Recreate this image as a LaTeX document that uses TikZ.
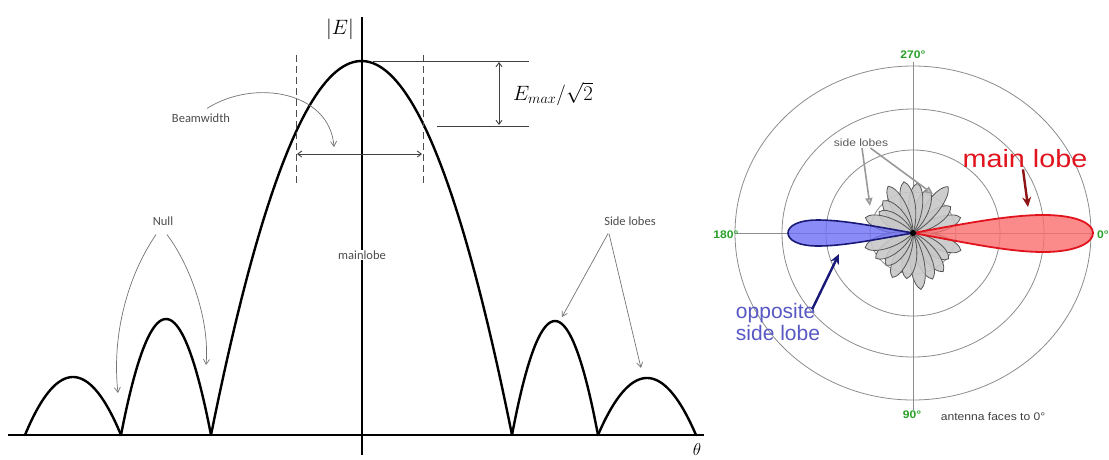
\documentclass[tikz,border=0pt]{standalone}
\usepackage{fontspec}
\setmainfont{Liberation Sans}
\newfontfamily\calib{Carlito}
\usetikzlibrary{arrows.meta}
\definecolor{lobered}{RGB}{250,110,110}
\definecolor{lobeedge}{RGB}{225,20,30}
\definecolor{lobeblue}{RGB}{110,110,245}
\definecolor{navy}{RGB}{25,25,120}
\definecolor{darkred}{RGB}{140,20,20}
\definecolor{degreen}{RGB}{40,160,40}
\definecolor{petalfill}{RGB}{200,200,200}
\definecolor{petaledge}{RGB}{85,85,85}
\begin{document}
\begin{tikzpicture}[x=1pt,y=-1pt,
  curve/.style={line width=2.4pt, line join=round, line cap=round},
  axisline/.style={line width=1.8pt},
  thinline/.style={line width=0.9pt, black!75},
  dashline/.style={line width=0.9pt, black!70, dash pattern=on 7pt off 4pt},
  note/.style={black!55, line width=0.7pt, -{Straight Barb[length=5pt,width=6pt]}},
  dbl/.style={thinline, {Straight Barb[length=4pt,width=6pt]}-{Straight Barb[length=4pt,width=6pt]}},
  lbl/.style={font=\calib\fontsize{12.5}{13}\selectfont, text=black!70, inner sep=1pt},
  gridline/.style={black!45, line width=0.8pt},
  petal/.style={fill=petalfill, fill opacity=0.9, draw=petaledge, line width=0.8pt},
  deg/.style={font=\bfseries\fontsize{11}{11}\selectfont, text=degreen, inner sep=1pt, xscale=1.1},
  grayarrow/.style={black!40, line width=1.6pt, -{Triangle[open,length=8pt,width=7pt,fill=black!15]}}
]
\useasboundingbox (0,0) rectangle (1109,459);

% ---------------- left: field pattern ----------------
\draw[axisline] (8,435) -- (704,435);
\draw[axisline] (362,17) -- (362,455);

% main lobe and side lobes (parabolic arcs)
\draw[curve] plot[domain=211:512, samples=90, variable=\t]
  (\t, {435-374*(1-((\t-361.5)/150.5)*((\t-361.5)/150.5))});
\draw[curve] plot[domain=25:121, samples=50, variable=\t]
  (\t, {435-58*(1-((\t-73)/48)*((\t-73)/48))});
\draw[curve] plot[domain=121:211, samples=50, variable=\t]
  (\t, {435-116*(1-((\t-166)/45)*((\t-166)/45))});
\draw[curve] plot[domain=512:598, samples=50, variable=\t]
  (\t, {435-114*(1-((\t-555)/43)*((\t-555)/43))});
\draw[curve] plot[domain=598:696, samples=50, variable=\t]
  (\t, {435-57*(1-((\t-647)/49)*((\t-647)/49))});

% beamwidth markers
\draw[dashline] (296,55) -- (296,183);
\draw[dashline] (423,55) -- (423,183);
\draw[dbl] (297,154) -- (422,154);
\draw[thinline] (373,61) -- (529,61);
\draw[thinline] (437,126) -- (529,126);
\draw[dbl] (499,62) -- (499,125);

\node (absE) at (340,29) {\fontsize{20}{20}\selectfont $|E|$};
\node (emax) at (553,94) {\fontsize{22}{22}\selectfont $E_{max}/\sqrt{2}$};
\node (theta) at (697,449) {\fontsize{18}{18}\selectfont $\theta$};

\node[lbl] (bw) at (201,118) {Beamwidth};
\coordinate (bwtip) at (334,147);
\draw[note] ([xshift=6pt,yshift=4pt]bw.north) .. controls (255,78) and (330,92) .. (bwtip);

\node[lbl, fill=white] (ml) at (362,255) {mainlobe};

\node[lbl] (null) at (163,221) {Null};
\coordinate (nullA) at (118,393);
\coordinate (nullB) at (206,365);
\draw[note] ([xshift=-7pt,yshift=-8pt]null.south) .. controls (125,280) and (112,340) .. (nullA);
\draw[note] ([xshift=4pt,yshift=-8pt]null.south) .. controls (190,265) and (210,320) .. (nullB);

\node[lbl] (sl) at (630,221) {Side lobes};
\coordinate (slA) at (562,317);
\coordinate (slB) at (641,368);
\draw[note] ([xshift=-22pt,yshift=-7pt]sl.south) -- (slA);
\draw[note] ([xshift=-21pt,yshift=-7pt]sl.south) -- (slB);

% ---------------- right: polar plot ----------------
\coordinate (C) at (913,233);
\foreach \rx/\ry in {43/41, 87/83, 131/124, 178/167}
  \draw[gridline] (C) ellipse [x radius=\rx, y radius=\ry];
\draw[gridline] (913,62) -- (913,410);
\draw[gridline] (735,233) -- (1093,233);

% side-lobe petals
\foreach \a/\L in {18/50, 35/46, 53/58, 70/47, 85/50, 100/52, 118/53, 133/44, 148/40, 162/50,
                   -20/51, -36/44, -52/49, -67/50, -82/57, -98/46, -115/49, -130/42, -146/45, -163/50}
  \draw[petal, shift={(C)}, rotate=\a]
    (0,0) .. controls (0.35*\L,10) and (0.9*\L,9) .. (\L,0)
          .. controls (0.9*\L,-9) and (0.35*\L,-10) .. (0,0) -- cycle;

% main lobe (red)
\draw[shift={(C)}, fill=lobered, fill opacity=0.8, draw=lobeedge, line width=1.8pt]
  (0,0) .. controls (50,-9) and (95,-18) .. (130,-18)
        .. controls (165,-18) and (180,-9) .. (180,0)
        .. controls (180,9) and (165,19) .. (130,19)
        .. controls (95,19) and (50,9) .. (0,0) -- cycle;
% opposite side lobe (blue)
\draw[shift={(C)}, fill=lobeblue, fill opacity=0.8, draw=navy, line width=1.6pt]
  (0,0) .. controls (-40,-7) and (-70,-13) .. (-95,-13)
        .. controls (-115,-13) and (-125,-7) .. (-125,0)
        .. controls (-125,7) and (-115,13) .. (-95,13)
        .. controls (-70,13) and (-40,7) .. (0,0) -- cycle;
\fill[black] (C) circle [radius=3];

% degree labels
\node[deg] (d270) at (913,55) {270°};
\node[deg] (d90) at (912,415) {90°};
\node[deg] (d180) at (726,235) {180°};
\node[deg] (d0) at (1103,235) {0°};
\node[font=\fontsize{11}{11}\selectfont, text=black!75, xscale=1.1] (faces) at (993,417) {antenna faces to 0°};

% annotations
\node[font=\fontsize{25}{25}\selectfont, text=lobeedge, xscale=1.15, inner sep=1pt] (mainl) at (1025,159) {main lobe};
\coordinate (mainTip) at (1028,207);
\draw[darkred, line width=2.4pt, -{Stealth[length=10pt,width=9pt]}] ([xshift=-2pt]mainl.south) -- (mainTip);

\node[font=\fontsize{21}{22}\selectfont, text=lobeblue!80!black, align=left, inner sep=0pt] (opp) at (778,322) {opposite\\side lobe};
\coordinate (oppTip) at (839,254);
\draw[navy, line width=2.4pt, -{Stealth[length=10pt,width=9pt]}] ([xshift=-8pt,yshift=-6pt]opp.north east) -- (oppTip);

\node[font=\fontsize{10.5}{11}\selectfont, text=black!65, xscale=1.15, inner sep=1pt] (sidel) at (861,143) {side lobes};
\coordinate (sideA) at (870,206);
\coordinate (sideB) at (933,194);
\draw[grayarrow] ([xshift=1pt]sidel.south) -- (sideA);
\draw[grayarrow] ([xshift=38pt]sidel.south west) -- (sideB);
\end{tikzpicture}
\end{document}
